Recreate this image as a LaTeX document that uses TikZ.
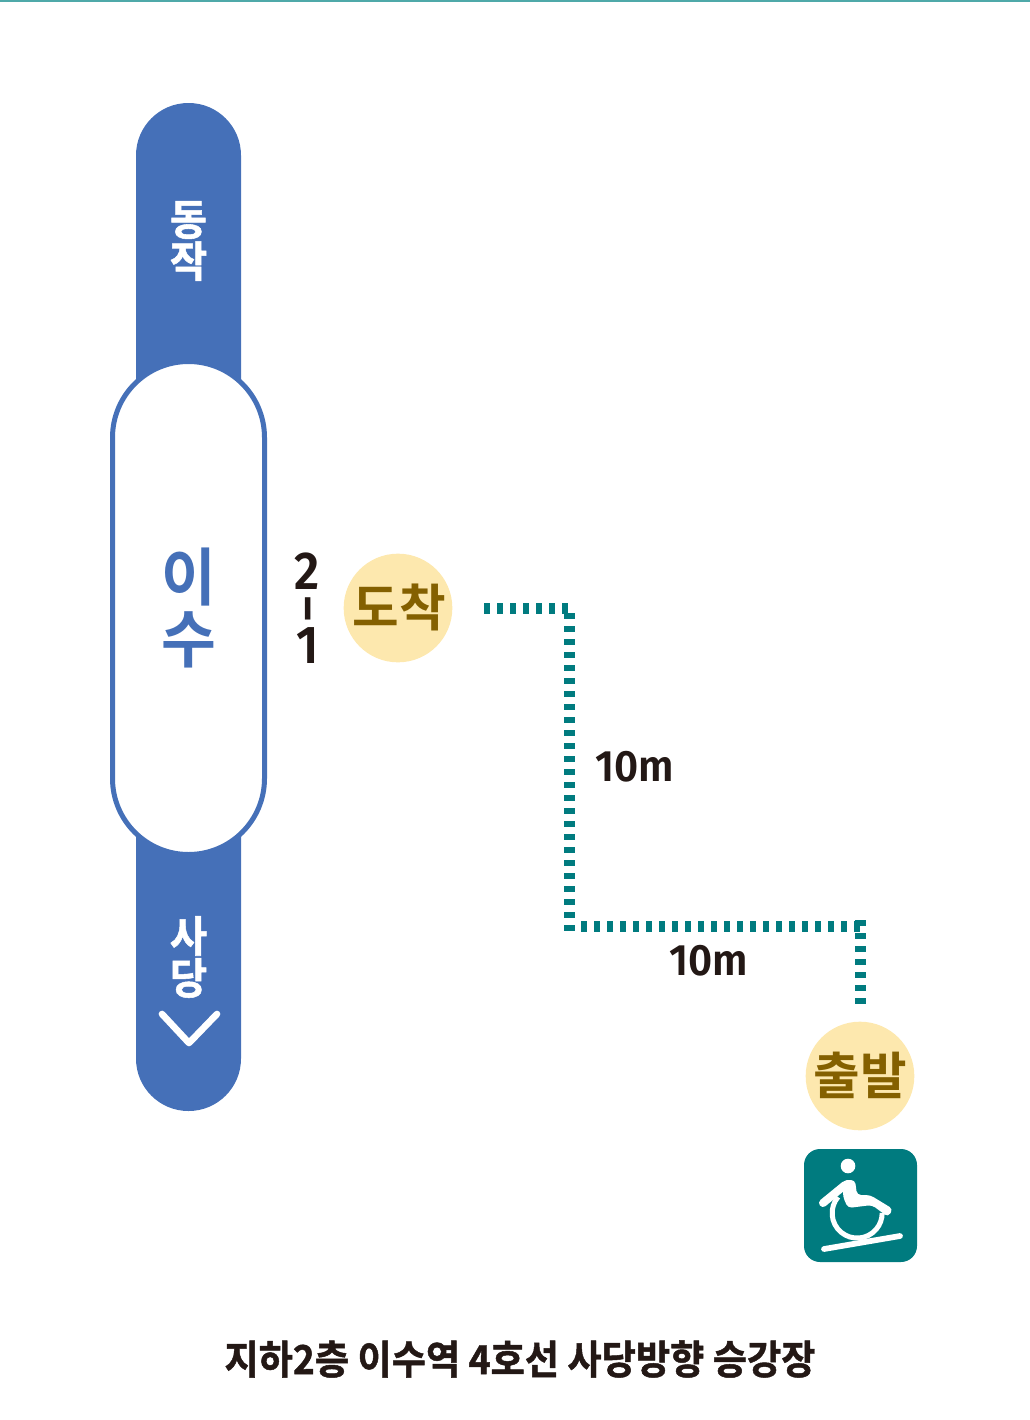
\documentclass[tikz,border=0pt]{standalone}
\usepackage{fontspec}
\newfontfamily\krfont{Noto Sans CJK KR Bold}
\newfontfamily\krheavy[FakeBold=1.2]{Noto Sans CJK KR Bold}
\setmainfont{Fira Sans SemiBold}
\definecolor{linebl}{HTML}{4570B8}
\definecolor{teal1}{HTML}{007B7F}
\definecolor{toprule}{HTML}{4FA9A9}
\definecolor{disc}{HTML}{FDE8AE}
\definecolor{discin}{HTML}{846000}
\definecolor{inkk}{HTML}{231815}
\tikzset{
    every node/.style={inner sep=0mm, outer sep=0mm},
    dots/.style={draw=teal1, line width=8.25pt, dash pattern=on 4.5pt off 5.25pt},
    goal/.style={circle, fill=disc, minimum size=81.5pt},
    goaltxt/.style={text=discin, font=\krfont\fontsize{38}{38}\selectfont},
    linetxt/.style={text=white, align=center, font=\krheavy\fontsize{32}{31.5}\selectfont, xscale=.95},
    lbl/.style={text=inkk, font=\fontsize{33}{33}\selectfont, xscale=.95},
    door/.style={text=inkk, font=\fontsize{40}{40}\selectfont, xscale=.92}
}
\begin{document}
\begin{tikzpicture}[x=.75pt, y=-.75pt]
        \useasboundingbox (0,0) rectangle (1030,1420);
        \draw [draw=toprule, line width=1.2pt] (0,.8) -- (1030,.8);
        % line bar and station
        \fill [linebl, rounded corners=39.3pt] (136,103) rectangle (241,1111);
        \draw [linebl, fill=white, line width=3.75pt, rounded corners=57pt] (112.5,361.5) rectangle (264.5,854.5);
        \node (dongjak) [linetxt] at (188.5,241) {동\\작};
        \node (sadang) [linetxt] at (188.5,957) {사\\당};
        \draw [white, line width=5pt, line cap=round, line join=round] (162,1014) -- (189,1043) -- (217,1014);
        \node (isu) [text=linebl, align=center, font=\krfont\fontsize{47}{46}\selectfont, xscale=.95] at (189,608) {이\\수};
        \node (door2) [door] at (307.5,571.5) {2};
        \node (doordash) [door, rotate=90, xscale=1.35] at (314.5,609) {-};
        \node (door1) [door] at (307.5,645.5) {1};
        % arrive and depart
        \node (arrive) [goal] at (398,608) {};
        \node (arrivetxt) [goaltxt] at (399,607) {도착};
        \node (depart) [goal] at (860,1076) {};
        \node (departtxt) [goaltxt] at (860,1075) {출발};
        % dotted path
        \coordinate (p0) at (484,608.5);
        \coordinate (p1) at (568,608.5);
        \coordinate (p2) at (569.5,613);
        \coordinate (p3) at (569.5,932);
        \coordinate (p4) at (581,926.5);
        \coordinate (p5) at (866,926.5);
        \coordinate (p6) at (860.5,920);
        \coordinate (p7) at (860.5,1005);
        \draw [dots] (p0) -- (p1);
        \draw [dots] (p2) -- (p3);
        \draw [dots] (p4) -- (p5);
        \draw [dots] (p6) -- (p7);
        \node (dist1) [lbl, anchor=west] at (595,767) {10m};
        \node (dist2) [lbl, anchor=west] at (669,961) {10m};
        % ramp sign
        \fill [teal1, rounded corners=12pt] (804,1149) rectangle (917,1262);
        \fill [white] (848,1166) circle (7.3);
        \draw [white, line width=4.3pt, line cap=round] (824,1249) -- (900,1236);
        \draw [white, line width=3.75pt] (838,1197) arc (220:0:25);
        \draw [white, line width=6pt, line cap=round] (823,1203) -- (845,1185);
        \fill [white, rounded corners=3pt] (843,1180) -- (855,1180) -- (857,1195) -- (870,1195) -- (893,1209) -- (888,1217) -- (872,1205) -- (848,1208) -- (843,1197) -- cycle;
        % caption
        \node (caption) [text=inkk, font=\krheavy\fontsize{30}{30}\selectfont, xscale=.93] at (520,1359) {지하2층 이수역 4호선 사당방향 승강장};
\end{tikzpicture}
\end{document}
